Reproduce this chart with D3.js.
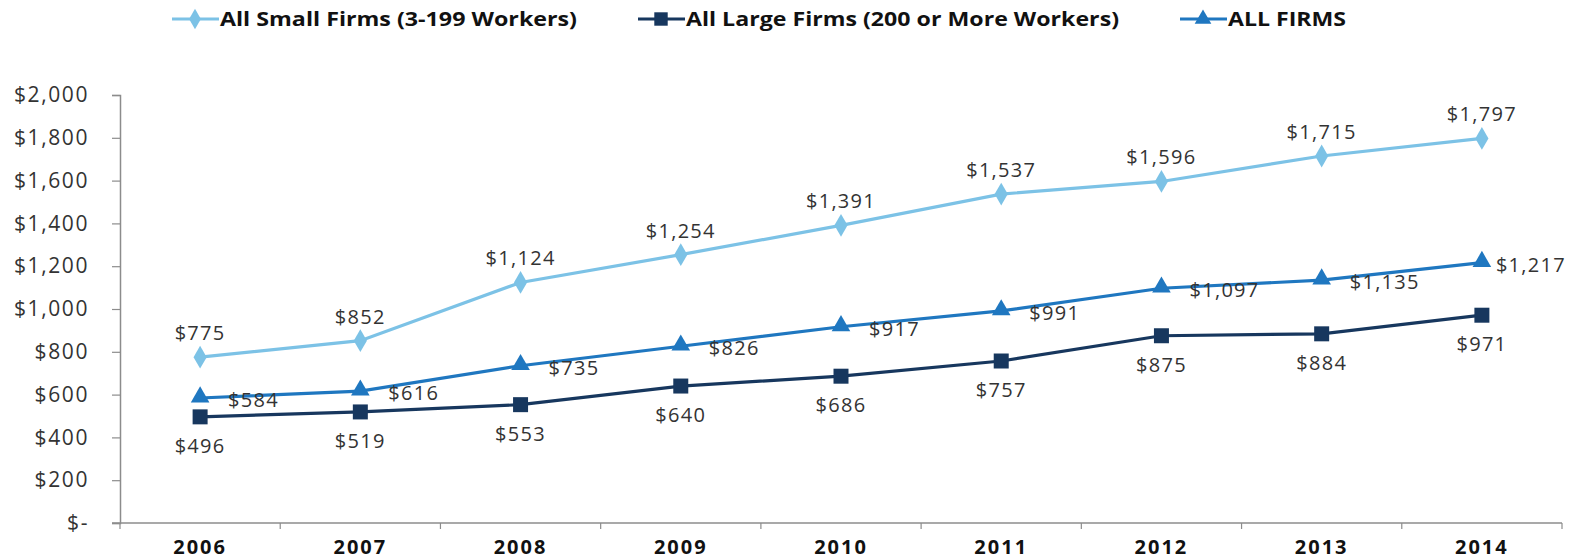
<!DOCTYPE html>
<html>
<head>
<meta charset="utf-8">
<script src="https://cdn.jsdelivr.net/npm/d3@7"></script>
<style>
  html, body { margin: 0; padding: 0; background: #fff; }
  svg { display: block; }
</style>
</head>
<body>
<svg id="chart" width="1583" height="560"></svg>
<script>
// Average annual worker contribution, by firm size
const years = ["2006", "2007", "2008", "2009", "2010", "2011", "2012", "2013", "2014"];
const smallFirms = [775, 852, 1124, 1254, 1391, 1537, 1596, 1715, 1797];
const largeFirms = [496, 519, 553, 640, 686, 757, 875, 884, 971];
const allFirms = [584, 616, 735, 826, 917, 991, 1097, 1135, 1217];
const yTicks = [0, 200, 400, 600, 800, 1000, 1200, 1400, 1600, 1800, 2000];
const seriesNames = ["All Small Firms (3-199 Workers)", "All Large Firms (200 or More Workers)", "ALL FIRMS"];

const series = [
  { name: seriesNames[0], values: smallFirms, color: "#7cc2e6", symbol: d3.symbolDiamond, size: 150, labelPos: "above" },
  { name: seriesNames[1], values: largeFirms, color: "#17375e", symbol: d3.symbolSquare, size: 225, labelPos: "below" },
  { name: seriesNames[2], values: allFirms, color: "#1f77c0", symbol: d3.symbolTriangle, size: 150, labelPos: "right" }
];

const svg = d3.select("#chart");
const margin = { left: 120, right: 21, top: 95, bottom: 37 };
const W = 1583, H = 560;
const FONT = "'Open Sans', sans-serif";

const x = d3.scaleBand().domain(years).range([margin.left, W - margin.right]);
const y = d3.scaleLinear().domain([0, 2000]).range([H - margin.bottom, margin.top]);

const money = d3.format(",");
const fmt = v => v === 0 ? "$-" : "$" + money(v);

// Y axis
const yAxis = svg.append("g")
  .attr("transform", `translate(${margin.left},0)`)
  .call(d3.axisLeft(y).tickValues(yTicks).tickFormat(fmt).tickSize(8).tickPadding(23));
yAxis.select(".domain").attr("stroke", "#8c8c8c").attr("stroke-width", 1.5);
yAxis.selectAll(".tick line").attr("stroke", "#8c8c8c").attr("stroke-width", 1.2);
yAxis.selectAll(".tick text")
  .attr("font-family", FONT)
  .attr("font-size", 21)
  .attr("letter-spacing", 1.6)
  .attr("fill", "#333");

// X axis with tick marks at category boundaries
const xAxisG = svg.append("g").attr("transform", `translate(0,${y(0)})`);
xAxisG.append("line")
  .attr("x1", margin.left - 8).attr("x2", W - margin.right)
  .attr("stroke", "#8c8c8c").attr("stroke-width", 1.5);
const bounds = years.map(yr => x(yr)).concat([x(years[years.length - 1]) + x.bandwidth()]);
xAxisG.selectAll("line.tk").data(bounds).join("line")
  .attr("class", "tk")
  .attr("x1", d => d).attr("x2", d => d)
  .attr("y1", 0).attr("y2", 6)
  .attr("stroke", "#8c8c8c").attr("stroke-width", 1.2);
xAxisG.selectAll("text").data(years).join("text")
  .attr("x", d => x(d) + x.bandwidth() / 2)
  .attr("y", 31)
  .attr("text-anchor", "middle")
  .attr("font-family", FONT)
  .attr("font-weight", "bold")
  .attr("font-size", 20)
  .attr("letter-spacing", 2)
  .attr("fill", "#111")
  .text(d => d);

const cx = i => x(years[i]) + x.bandwidth() / 2;

const line = d3.line().x((d, i) => cx(i)).y(d => y(d));

series.forEach(s => {
  const g = svg.append("g");
  g.append("path")
    .datum(s.values)
    .attr("d", line)
    .attr("fill", "none")
    .attr("stroke", s.color)
    .attr("stroke-width", 3.2);
  g.selectAll("path.m").data(s.values).join("path")
    .attr("class", "m")
    .attr("d", d3.symbol().type(s.symbol).size(s.size))
    .attr("transform", (d, i) => `translate(${cx(i)},${y(d) + (s.symbol === d3.symbolTriangle ? -1 : 0)})`)
    .attr("fill", s.color);
  const last = s.values.length - 1;
  g.selectAll("text").data(s.values).join("text")
    .attr("x", (d, i) => s.labelPos === "right" ? cx(i) + (i === last ? 14 : 28) : cx(i))
    .attr("y", d => s.labelPos === "above" ? y(d) - 17 : s.labelPos === "below" ? y(d) + 36 : y(d) + 9)
    .attr("text-anchor", s.labelPos === "right" ? "start" : "middle")
    .attr("font-family", FONT)
    .attr("font-size", 20)
    .attr("letter-spacing", 1.3)
    .attr("fill", "#333")
    .text(d => fmt(d));
});

// Legend
const legendX = [172, 638, 1180];
const legendTextW = [357, 433, 118];
const legend = svg.append("g");
series.forEach((s, i) => {
  const g = legend.append("g").attr("transform", `translate(${legendX[i]},19)`);
  g.append("line").attr("x1", 0).attr("x2", 47).attr("stroke", s.color).attr("stroke-width", 3.2);
  g.append("path")
    .attr("d", d3.symbol().type(s.symbol).size(s.size * 0.8))
    .attr("transform", "translate(23,0)")
    .attr("fill", s.color);
  g.append("text")
    .attr("x", 48).attr("y", 7)
    .attr("font-family", FONT)
    .attr("font-weight", "bold")
    .attr("font-size", 20)
    .attr("textLength", legendTextW[i])
    .attr("lengthAdjust", "spacingAndGlyphs")
    .attr("fill", "#111")
    .text(s.name);
});
</script>
</body>
</html>
